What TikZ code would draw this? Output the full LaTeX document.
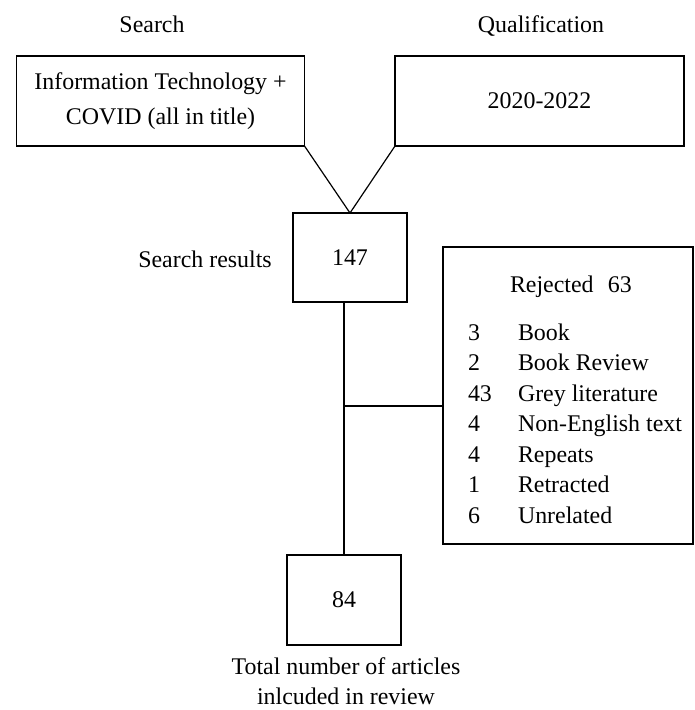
\documentclass[tikz,border=0pt]{standalone}
\usepackage{fontspec}
\setmainfont{Liberation Serif}
\begin{document}
\begin{tikzpicture}[x=1pt,y=-1pt,
  every node/.style={inner sep=0pt,outer sep=0pt},
  txt/.style={font=\fontsize{23.9}{31}\selectfont},
  box/.style={draw,line width=1.3pt,txt,align=center},
  lnk/.style={line width=1.2pt}]
\useasboundingbox (0,0) rectangle (694,710);
% headings
\node[txt,anchor=base] (hsearch) at (152,32) {Search};
\node[txt,anchor=base] (hqual) at (541,32) {Qualification};
% top boxes
\node[box,minimum width=288,minimum height=90,font=\fontsize{23.9}{35}\selectfont] (it) at (160.5,101) {Information Technology +\\COVID (all in title)};
\node[box,minimum width=289,minimum height=90] (yr) at (539.5,101) {2020-2022};
% search results
\node[box,minimum width=114,minimum height=89] (sr) at (350,257.5) {147};
\node[txt] (srlab) at (205,259) {Search results};
% final
\node[box,minimum width=114,minimum height=90] (fin) at (344,600) {84};
\node[txt,align=center,font=\fontsize{23.9}{30}\selectfont,anchor=base] (finlab) at (346,704) {Total number of articles\\inlcuded in review};
% rejected
\node[draw,line width=1.3pt,minimum width=250,minimum height=297] (rej) at (568,395.5) {};
\node[txt,anchor=base west] (rejt) at (510,292) {Rejected\hspace{0.6em}63};
\node[txt,anchor=base west] (n1) at (468,340) {3};
\node[txt,anchor=base west] (l1) at (518,340) {Book};
\node[txt,anchor=base west] (n2) at (468,370) {2};
\node[txt,anchor=base west] (l2) at (518,370) {Book Review};
\node[txt,anchor=base west] (n3) at (468,401) {43};
\node[txt,anchor=base west] (l3) at (518,401) {Grey literature};
\node[txt,anchor=base west] (n4) at (468,431) {4};
\node[txt,anchor=base west] (l4) at (518,431) {Non-English text};
\node[txt,anchor=base west] (n5) at (468,462) {4};
\node[txt,anchor=base west] (l5) at (518,462) {Repeats};
\node[txt,anchor=base west] (n6) at (468,492) {1};
\node[txt,anchor=base west] (l6) at (518,492) {Retracted};
\node[txt,anchor=base west] (n7) at (468,523) {6};
\node[txt,anchor=base west] (l7) at (518,523) {Unrelated};
% connectors
\draw[lnk] (it.south east) -- (sr.north);
\draw[lnk] (yr.south west) -- (sr.north);
\draw[lnk] (fin.north) -- (fin.north |- sr.south);
\coordinate (j) at (344,406);
\draw[lnk] (j) -- (j -| rej.west);
\end{tikzpicture}
\end{document}
